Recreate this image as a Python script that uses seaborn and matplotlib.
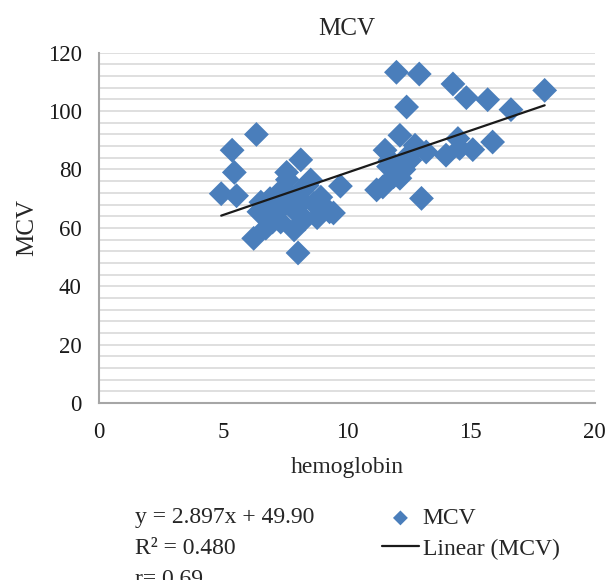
import numpy as np
import pandas as pd
import seaborn as sns
import matplotlib.pyplot as plt

# data
hemoglobin = [4.93, 5.37, 5.46, 5.55, 6.35, 6.24, 8.03, 7.87, 6.73, 9.74, 9.07, 8.14, 7.57,
              6.53, 6.45, 6.8, 7.07, 7.2, 7.33, 7.47, 7.6, 7.75, 7.9, 8.0, 8.1, 8.3, 8.54,
              8.67, 8.4, 8.8, 8.95, 7.0, 6.9, 8.2, 7.5, 9.3, 9.46,
              11.2, 11.45, 11.54, 11.68, 11.74, 11.88, 12.14, 12.14, 12.41, 12.55, 12.75,
              13.01, 13.2, 12.3, 12.0, 12.92, 14.0, 14.28, 14.48, 14.55, 14.82, 15.08,
              15.68, 15.88, 16.62, 17.98, 12.5]
mcv = [71.7, 86.6, 79.0, 71.0, 92.0, 56.4, 51.4, 59.3, 59.9, 74.3, 66.1, 83.3, 79.0,
       68.8, 65.5, 64.0, 66.1, 71.5, 62.0, 73.0, 76.5, 70.0, 67.5, 65.0, 72.5, 63.0, 76.4,
       68.4, 74.5, 63.5, 70.5, 62.0, 70.0, 69.0, 68.0, 65.5, 65.1,
       73.0, 74.0, 86.6, 81.0, 83.2, 77.5, 77.0, 91.7, 101.4, 83.2, 88.3,
       70.1, 86.0, 80.0, 113.3, 112.7, 84.9, 109.3, 90.6, 87.2, 104.6, 86.8,
       103.9, 89.4, 100.5, 107.1, 85.0]
slope = 2.897
intercept = 49.90
eq_lines = ['y = 2.897x + 49.90', 'R² = 0.480', 'r= 0.69']

df = pd.DataFrame({'hemoglobin': hemoglobin, 'MCV': mcv})

sns.set_style('white')
plt.rcParams['font.family'] = ['Liberation Serif', 'DejaVu Serif']

fig = plt.figure(figsize=(6.06, 5.8), dpi=100)
ax = fig.add_axes([0.1634, 0.3052, 0.818, 0.6039])

blue = '#4a7ebb'
sns.scatterplot(data=df, x='hemoglobin', y='MCV', marker='D', s=160, color=blue,
                edgecolor='none', ax=ax, label='MCV', legend=False, zorder=3)

# linear trendline
xl = np.array([min(hemoglobin), max(hemoglobin)])
ax.plot(xl, slope * xl + intercept, color='#1a1a1a', lw=1.6, zorder=4, label='Linear (MCV)')

ax.set_xlim(0, 20)
ax.set_ylim(0, 120)
ax.set_xticks(np.arange(0, 21, 5))
ax.set_yticks(np.arange(0, 121, 20))
ax.set_yticks(np.arange(0, 121, 4), minor=True)
ax.grid(axis='y', which='both', color='#d9d9d9', lw=1.2)
ax.grid(axis='x', visible=False)
ax.set_axisbelow(True)

for s in ['top', 'right']:
    ax.spines[s].set_visible(False)
for s in ['left', 'bottom']:
    ax.spines[s].set_color('#a6a6a6')
    ax.spines[s].set_linewidth(1.5)
ax.tick_params(axis='both', which='major', direction='out', length=6.5, width=1.5,
               color='#a6a6a6', labelsize=16.5, labelcolor='#1a1a1a')
ax.tick_params(axis='x', pad=7)
ax.tick_params(axis='y', pad=6)
ax.tick_params(axis='y', which='minor', length=0)

ax.set_title('MCV', fontsize=18, pad=13)
ax.set_xlabel('hemoglobin', fontsize=17, labelpad=10)
ax.set_ylabel('MCV', fontsize=18, labelpad=7)

for i, t in enumerate(eq_lines):
    fig.text(0.223, 0.108 - i * 0.0534, t, fontsize=17, va='center')

h, l = ax.get_legend_handles_labels()
fig.legend(h, l, loc='center left', bbox_to_anchor=(0.614, 0.080), frameon=False,
           fontsize=17, handlelength=1.6, handletextpad=0.15, labelspacing=0.38,
           markerscale=0.6, borderaxespad=0)

fig.savefig('out.png', dpi=100)
